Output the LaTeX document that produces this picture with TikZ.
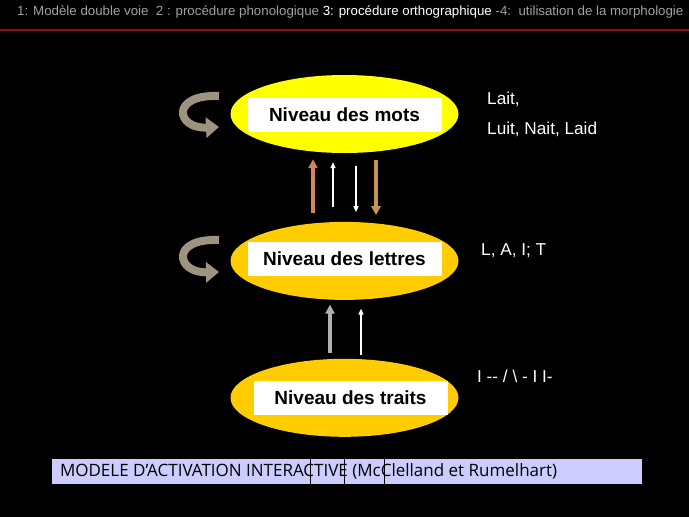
\documentclass[tikz,border=0pt]{standalone}
\usepackage{fontspec}
\setmainfont{Liberation Sans}
\newfontfamily\barfont{Open Sans}
\usetikzlibrary{shapes.geometric,arrows.meta,positioning}
\definecolor{titlegray}{RGB}{160,160,160}
\definecolor{titlered}{RGB}{140,20,20}
\definecolor{motsyellow}{RGB}{255,255,0}
\definecolor{niveaugold}{RGB}{255,204,0}
\definecolor{curlgray}{RGB}{158,146,128}
\definecolor{arroworange}{RGB}{214,132,90}
\definecolor{arrowtan}{RGB}{200,146,84}
\definecolor{arrowgray}{RGB}{176,176,176}
\definecolor{barlavender}{RGB}{204,204,255}

\begin{document}
\begin{tikzpicture}[x=1pt,y=-1pt]
   \tikzset{niveau node/.style={ellipse, inner sep=0pt,
   		minimum width=228pt, minimum height=78pt}, }
   \tikzset{label node/.style={rectangle, fill=white, text=black, inner sep=0pt,
   		minimum width=194pt, minimum height=34pt,
   		font=\fontsize{19}{22}\selectfont\bfseries}, }
   \tikzset{mot node/.style={anchor=west, text=white, inner sep=0pt,
   		font=\fontsize{17.2}{20}\selectfont}, }
   \tikzset{linea/.style={line width=4pt, -{Triangle[width=9pt,length=9pt]}},}
   \tikzset{fine/.style={white, line width=1.3pt, -{Triangle[width=5pt,length=6pt]}},}
   \tikzset{boucle/.style={curlgray, line width=8pt, -{Triangle[width=20pt,length=13pt]}},}

\fill[black] (0,0) rectangle (689,517);
\useasboundingbox (0,0) rectangle (689,517);

% titre
\node[anchor=west, inner sep=0pt, font=\fontsize{13.3}{16}\selectfont] (titre) at (17,12)
  {\color{titlegray}1: Modèle double voie~~2 : procédure phonologique
   \color{white}3: procédure orthographique \color{titlegray}-4:~~utilisation de la morphologie};
\draw[titlered, line width=1.5pt] (0,30) -- (689,30);

\node[niveau node, fill=motsyellow] (mots) at (344.5,114) {};
\node[niveau node, fill=niveaugold] (lettres) [below =68.5pt of mots] {};
\node[niveau node, fill=niveaugold] (traits) [below =58.5pt of lettres] {};
\node[label node] (lmots) at ([yshift=-1pt]mots.center) {Niveau des mots};
\node[label node] (llettres) at ([yshift=2pt]lettres.center) {Niveau des lettres};
\node[label node] (ltraits) at ([xshift=6pt]traits.center) {Niveau des traits};

\node[mot node] (lait) at (487,99) {Lait,};
\node[mot node] (voisins) at (487,129) {Luit, Nait, Laid};
\node[mot node] (lettre) at (481,251) {L, A, I; T};
\node[mot node] (trait) at (477,376) {I -{}- / \textbackslash{} - I I-};

% boucles
\draw[boucle] (219,96) .. controls (170,94) and (176,129) .. (219,127);
\draw[boucle] (219,240) .. controls (170,238) and (176,273) .. (219,272);

% liens
\draw[linea, arroworange, shorten <=8.5pt, shorten >=6pt] ([xshift=-31.5pt]lettres.north) -- ([xshift=-31.5pt]mots.south);
\draw[fine, shorten <=14.5pt, shorten >=9pt] ([xshift=-11.5pt]lettres.north) -- ([xshift=-11.5pt]mots.south);
\draw[fine, shorten <=13pt, shorten >=9.5pt] ([xshift=11.5pt]mots.south) -- ([xshift=11.5pt]lettres.north);
\draw[linea, arrowtan, shorten <=7pt, shorten >=6.5pt] ([xshift=31.5pt]mots.south) -- ([xshift=31.5pt]lettres.north);
\draw[linea, arrowgray, shorten <=6pt, shorten >=4.5pt] ([xshift=-14.5pt]traits.north) -- ([xshift=-14.5pt]lettres.south);
\draw[fine, shorten <=4pt, shorten >=8.5pt] ([xshift=16.5pt]traits.north) -- ([xshift=16.5pt]lettres.south);

% bandeau
\node[rectangle, fill=barlavender, inner sep=0pt, minimum width=590pt, minimum height=25pt] (barre) at (347,471.5) {};
\node[anchor=west, inner sep=0pt, font=\barfont\fontsize{17}{20}\selectfont] (modele) at ([xshift=8pt]barre.west)
  {MODELE D’ACTIVATION INTERACTIVE (McClelland et Rumelhart)};
\foreach \xpos in {310,344,384}
\draw[black, line width=1pt] (\xpos,459) -- (\xpos,484);
%
\end{tikzpicture}
\end{document}
